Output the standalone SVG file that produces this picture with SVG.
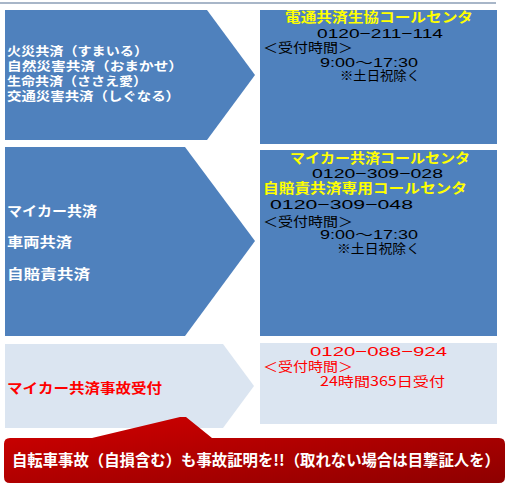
<svg xmlns="http://www.w3.org/2000/svg" width="510" height="485" viewBox="0 0 510 485">
<defs>
<linearGradient id="redg" x1="0" y1="0" x2="1" y2="1">
<stop offset="0" stop-color="#d20000"/>
<stop offset="1" stop-color="#8e0000"/>
</linearGradient>
<style>
.jp{font-family:"Noto Sans CJK JP","Liberation Sans",sans-serif;}
.num{font-family:"Liberation Sans","Noto Sans CJK JP",sans-serif;}
.w{fill:#ffffff;font-weight:bold;font-size:13.5px;}
.w1{fill:#ffffff;font-weight:bold;font-size:12.5px;}
.y{fill:#ffff00;font-weight:bold;font-size:13.5px;}
.k{fill:#000000;font-size:13px;}
.r{fill:#ff0000;font-size:13px;}
.rb{fill:#ff0000;font-weight:bold;font-size:14px;}
.dark{fill:#4f81bd;}
.light{fill:#dbe5f1;}
</style>
</defs>
<rect width="510" height="485" fill="#ffffff"/>
<line x1="0" y1="3" x2="496" y2="3" stroke="#a8b6c8" stroke-width="2"/>

<g id="chevron1">
<polygon class="dark" points="5,10 207,10 255,75 207,140 5,140"/>
<text class="jp w1" x="7" y="55.5" textLength="141" lengthAdjust="spacingAndGlyphs">火災共済（すまいる）</text>
<text class="jp w1" x="7" y="70.5" textLength="176" lengthAdjust="spacingAndGlyphs">自然災害共済（おまかせ）</text>
<text class="jp w1" x="7" y="85.5" textLength="140" lengthAdjust="spacingAndGlyphs">生命共済（ささえ愛）</text>
<text class="jp w1" x="7" y="100.5" textLength="173" lengthAdjust="spacingAndGlyphs">交通災害共済（しぐなる）</text>
</g>

<g id="box1">
<rect class="dark" x="260" y="10" width="237" height="134"/>
<text class="jp y" x="285" y="22" textLength="188" lengthAdjust="spacingAndGlyphs">電通共済生協コールセンタ</text>
<text class="num k" x="317" y="38" font-size="15" textLength="126" lengthAdjust="spacingAndGlyphs">0120−211−114</text>
<text class="jp k" x="263" y="52" textLength="90" lengthAdjust="spacingAndGlyphs">＜受付時間＞</text>
<text class="num k" x="320" y="67" font-size="13" textLength="98" lengthAdjust="spacingAndGlyphs">9:00～17:30</text>
<text class="jp k" x="340" y="80" font-size="12" textLength="80" lengthAdjust="spacingAndGlyphs">※土日祝除く</text>
</g>

<g id="chevron2">
<polygon class="dark" points="5,147 185,147 255,241 185,336 5,336"/>
<text class="jp w" x="7" y="216" font-size="14.5" textLength="90" lengthAdjust="spacingAndGlyphs">マイカー共済</text>
<text class="jp w" x="7" y="247" font-size="14.5" textLength="65" lengthAdjust="spacingAndGlyphs">車両共済</text>
<text class="jp w" x="7" y="279" font-size="14.5" textLength="83" lengthAdjust="spacingAndGlyphs">自賠責共済</text>
</g>

<g id="box2">
<rect class="dark" x="260" y="150" width="237" height="186"/>
<text class="jp y" x="290" y="163" textLength="180" lengthAdjust="spacingAndGlyphs">マイカー共済コールセンタ</text>
<text class="num k" x="312" y="178" font-size="15" textLength="131" lengthAdjust="spacingAndGlyphs">0120−309−028</text>
<text class="jp y" x="263" y="193" textLength="204" lengthAdjust="spacingAndGlyphs">自賠責共済専用コールセンタ</text>
<text class="num k" x="270" y="209" font-size="15" textLength="143" lengthAdjust="spacingAndGlyphs">0120−309−048</text>
<text class="jp k" x="263" y="226" textLength="90" lengthAdjust="spacingAndGlyphs">＜受付時間＞</text>
<text class="num k" x="320" y="239" font-size="13" textLength="98" lengthAdjust="spacingAndGlyphs">9:00～17:30</text>
<text class="jp k" x="337" y="253" font-size="12" textLength="83" lengthAdjust="spacingAndGlyphs">※土日祝除く</text>
</g>

<g id="chevron3">
<polygon class="light" points="5,344 223,344 254,386 223,428 5,428"/>
<text class="jp rb" x="7" y="393" textLength="155" lengthAdjust="spacingAndGlyphs">マイカー共済事故受付</text>
</g>

<g id="box3">
<rect class="light" x="260" y="343" width="237" height="81"/>
<text class="num r" x="310" y="356" font-size="15" textLength="137" lengthAdjust="spacingAndGlyphs">0120−088−924</text>
<text class="jp r" x="263" y="371" textLength="90" lengthAdjust="spacingAndGlyphs">＜受付時間＞</text>
<text class="jp r" x="320" y="386" textLength="125" lengthAdjust="spacingAndGlyphs">24時間365日受付</text>
</g>

<g id="banner">
<path d="M10,438 L92,438 L180,417 L186,417 L212,438 L499,438 Q505,438 505,444 L505,477 Q505,483 499,483 L10,483 Q4,483 4,477 L4,444 Q4,438 10,438 Z" fill="url(#redg)"/>
<text class="jp" x="12" y="466" fill="#ffffff" font-weight="bold" font-size="15.5" textLength="488" lengthAdjust="spacingAndGlyphs">自転車事故（自損含む）も事故証明を!!（取れない場合は目撃証人を）</text>
</g>
</svg>
